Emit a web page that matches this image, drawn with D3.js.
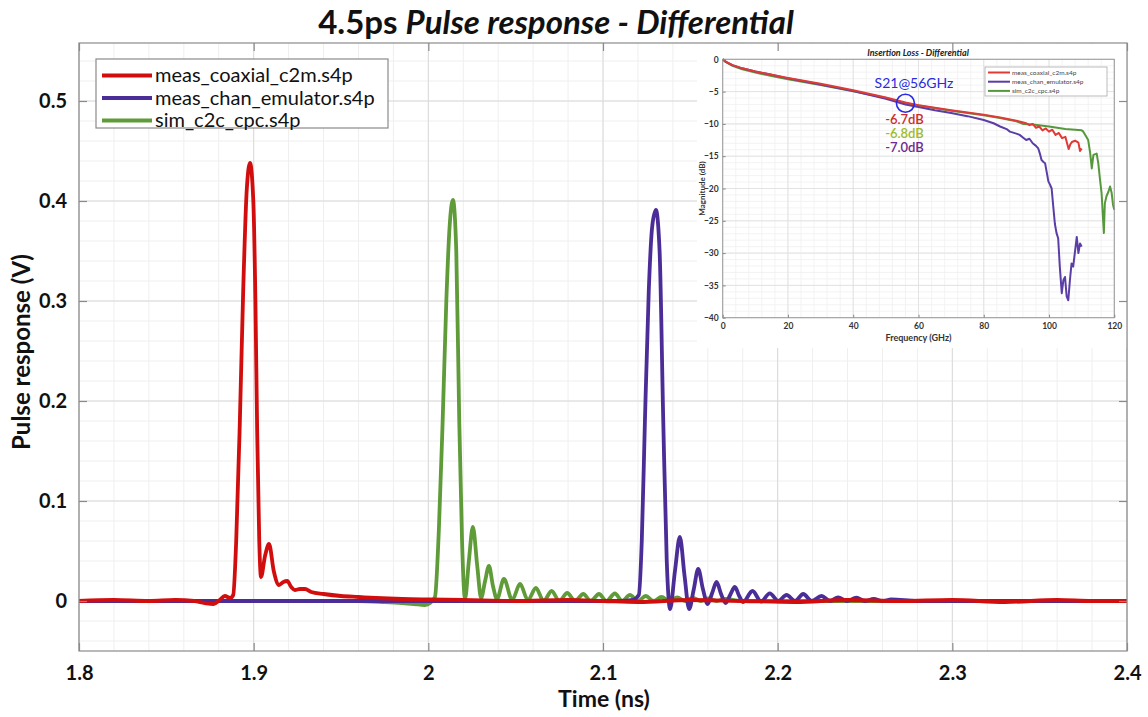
<!DOCTYPE html>
<html>
<head>
<meta charset="utf-8">
<script src="https://cdn.jsdelivr.net/npm/d3@7"></script>
<style>
  body { margin: 0; background: #fff; }
  svg { display: block; }
  text { font-family: Lato, "Open Sans", "DejaVu Sans", sans-serif; }
</style>
</head>
<body>
<svg id="chart" width="1148" height="717"></svg>
<script>
// ---- Pulse response data: [time (ns), pulse response (V)] ----
const seriesNames = ["meas_coaxial_c2m.s4p", "meas_chan_emulator.s4p", "sim_c2c_cpc.s4p"];
const seriesColors = ["#d10d0d", "#4b2d97", "#5f9b39"];

const coaxPulse = [
  [1.800, 0.000], [1.820, 0.001], [1.840, 0.000], [1.855, 0.001], [1.866, 0.000],
  [1.872, -0.002], [1.877, -0.003], [1.8805, 0.001], [1.8835, 0.005], [1.8865, 0.003],
  [1.8883, 0.006], [1.8900, 0.06], [1.8921, 0.18], [1.8940, 0.31], [1.8960, 0.41],
  [1.8979, 0.438], [1.8998, 0.40], [1.9010, 0.30], [1.9020, 0.17], [1.9032, 0.06],
  [1.9042, 0.024], [1.9065, 0.045], [1.9088, 0.057], [1.9115, 0.030], [1.9145, 0.016],
  [1.9170, 0.019], [1.9192, 0.020], [1.9215, 0.014], [1.9236, 0.011], [1.9265, 0.012],
  [1.9294, 0.012], [1.9330, 0.009], [1.9400, 0.007], [1.9500, 0.005], [1.9600, 0.004],
  [1.9700, 0.003], [1.9850, 0.002], [2.0000, 0.0015], [2.0200, 0.001], [2.0500, 0.000],
  [2.0800, 0.001], [2.1000, 0.000], [2.1200, -0.001], [2.1500, 0.001], [2.1800, 0.000],
  [2.2100, -0.001], [2.2400, 0.001], [2.2700, 0.000], [2.3000, 0.001], [2.3300, -0.001],
  [2.3600, 0.001], [2.3800, 0.000], [2.4000, 0.000]
];

const emulatorPulse = [
  [1.800, 0.000], [2.000, 0.000], [2.110, 0.000], [2.117, 0.001], [2.1205, 0.006],
  [2.1222, 0.06], [2.1240, 0.18], [2.1262, 0.31], [2.1282, 0.375], [2.1303, 0.391],
  [2.1324, 0.35], [2.1345, 0.18], [2.1365, 0.04], [2.1384, -0.008], [2.1412, 0.030],
  [2.1440, 0.064], [2.1467, 0.025], [2.1493, -0.008], [2.1520, 0.012], [2.1545, 0.032],
  [2.1572, 0.012], [2.1599, -0.003], [2.1625, 0.008], [2.1650, 0.019], [2.1676, 0.007],
  [2.1702, -0.002], [2.1728, 0.006], [2.1755, 0.014], [2.1780, 0.005], [2.1802, -0.001],
  [2.1856, 0.010], [2.1905, -0.0005], [2.1955, 0.0077], [2.2003, 0.000], [2.2051, 0.006],
  [2.2100, 0.000], [2.2146, 0.007], [2.2195, 0.000], [2.2251, 0.005], [2.2300, 0.000],
  [2.2346, 0.0037], [2.2395, 0.000], [2.2451, 0.0033], [2.2500, 0.000], [2.2550, 0.002],
  [2.2600, 0.000], [2.2650, 0.0015], [2.2800, 0.000], [2.4000, 0.000]
];

const simPulse = [
  [1.800, 0.000], [1.900, 0.000], [1.960, 0.000], [1.975, -0.001], [1.985, -0.002],
  [1.992, -0.003], [1.998, -0.004], [2.001, -0.002], [2.0038, 0.004], [2.0060, 0.07],
  [2.0082, 0.18], [2.0103, 0.30], [2.0122, 0.375], [2.0141, 0.401], [2.0160, 0.35],
  [2.0177, 0.18], [2.0193, 0.06], [2.0210, 0.002], [2.0232, 0.040], [2.0255, 0.074],
  [2.0280, 0.035], [2.0302, 0.003], [2.0325, 0.020], [2.0347, 0.035], [2.0370, 0.015],
  [2.0393, 0.002], [2.0433, 0.022], [2.0480, 0.001], [2.0525, 0.017], [2.0570, 0.001],
  [2.0616, 0.013], [2.0660, 0.000], [2.0706, 0.010], [2.0750, 0.000], [2.0795, 0.008],
  [2.0840, 0.000], [2.0887, 0.007], [2.0930, 0.000], [2.0977, 0.007], [2.1020, 0.000],
  [2.1068, 0.0075], [2.1110, 0.000], [2.1154, 0.006], [2.1200, 0.000], [2.1245, 0.005],
  [2.1290, 0.000], [2.1335, 0.004], [2.1380, 0.000], [2.1425, 0.0035], [2.1470, 0.000],
  [2.1515, 0.003], [2.1560, 0.000], [2.1605, 0.0025], [2.1650, 0.000], [2.1700, 0.002],
  [2.1800, 0.000], [2.4000, 0.000]
];

const xTickValues = [1.8, 1.9, 2.0, 2.1, 2.2, 2.3, 2.4];
const xTickLabels = ["1.8", "1.9", "2", "2.1", "2.2", "2.3", "2.4"];
const yTickValues = [0, 0.1, 0.2, 0.3, 0.4, 0.5];
const yTickLabels = ["0", "0.1", "0.2", "0.3", "0.4", "0.5"];

// ---- Insertion loss data: [frequency (GHz), magnitude (dB)] ----
const coaxLoss = [
  [0, 0], [1, -0.4], [3, -0.9], [6, -1.4], [10, -1.9], [15, -2.4], [20, -2.9], [30, -3.8],
  [40, -4.8], [50, -5.9], [56, -6.7], [60, -7.1], [70, -7.9], [80, -8.6], [85, -9.0],
  [90, -9.5], [93, -9.9], [94, -10.2], [95, -10.0], [96, -10.6], [97, -10.4], [98, -11.0],
  [99, -10.7], [100, -11.2], [101, -10.9], [102, -11.7], [103, -11.4], [104, -12.2],
  [105, -12.0], [106, -13.9], [106.5, -13.2], [107, -12.8], [108, -12.6], [109, -12.9],
  [109.5, -14.2], [110, -13.8]
];
const emulatorLoss = [
  [0, 0], [1, -0.4], [3, -0.9], [6, -1.4], [10, -1.9], [15, -2.4], [20, -2.95], [30, -3.9],
  [40, -4.9], [50, -6.1], [56, -7.0], [60, -7.4], [65, -7.9], [70, -8.3], [75, -8.8],
  [80, -9.4], [83, -9.9], [85, -10.4], [87, -10.8], [88, -11.2], [90, -11.5], [91, -11.7],
  [92, -12.1], [93, -12.5], [94, -12.3], [95, -13.0], [96, -13.4], [96.7, -13.8],
  [97.2, -14.6], [97.7, -15.6], [98.3, -15.9], [98.8, -16.1], [99.3, -17.5], [99.8, -18.9],
  [100.3, -19.4], [100.8, -20.0], [101.3, -22.8], [101.8, -25.5], [102.3, -26.9],
  [102.8, -27.7], [103.3, -32.1], [103.9, -36.2], [104.4, -34.2], [104.9, -33.7],
  [105.4, -36.7], [105.9, -37.3], [106.4, -34.2], [106.9, -31.6], [107.4, -32.1],
  [107.9, -30.0], [108.5, -27.5], [109, -30.0], [109.5, -28.5], [110, -29.0]
];
const simLoss = [
  [0, 0], [1, -0.45], [3, -1.0], [6, -1.55], [10, -2.05], [15, -2.6], [20, -3.1], [30, -4.0],
  [40, -4.95], [50, -6.0], [56, -6.8], [60, -7.15], [70, -7.95], [80, -8.65], [85, -9.1],
  [90, -9.6], [92, -10.0], [95, -10.1], [100, -10.4], [105, -10.8], [108, -10.9],
  [110, -11.0], [110.5, -11.2], [111.2, -11.8], [112, -12.5], [112.6, -14.5],
  [113.1, -16.9], [113.6, -14.8], [114.6, -14.6], [115.1, -16.1], [115.6, -18.5],
  [116.1, -20.7], [116.8, -26.9], [117.1, -22.3], [117.6, -21.2], [118.2, -20.5],
  [118.7, -19.7], [119.2, -20.7], [119.6, -22.5], [120, -23.3]
];
const lossColors = ["#e03a36", "#5a3ea6", "#56983c"];
const fTickValues = [0, 20, 40, 60, 80, 100, 120];
const dbTickValues = [0, -5, -10, -15, -20, -25, -30, -35, -40];

// S21 readings at 56 GHz
const markFreq = 56;
const markDb = -6.8;
const markLabels = ["-6.7dB", "-6.8dB", "-7.0dB"];
const markLabelColors = ["#cc2b2b", "#9dbb2a", "#6d2a95"];

const svg = d3.select("#chart");

// ---------- main axes ----------
const plot = { left: 79, right: 1127, top: 43, bottom: 651 };
const x = d3.scaleLinear().domain([1.8, 2.4]).range([plot.left, plot.right]);
const y = d3.scaleLinear().domain([-0.05, 0.558]).range([plot.bottom, plot.top]);

const grid = svg.append("g");
grid.selectAll(".vminor").data(x.ticks(30)).join("line")
  .attr("x1", d => x(d)).attr("x2", d => x(d))
  .attr("y1", plot.top).attr("y2", plot.bottom)
  .attr("stroke", "#efefef").attr("stroke-width", 1);
grid.selectAll(".hminor").data(y.ticks(30)).join("line")
  .attr("x1", plot.left).attr("x2", plot.right)
  .attr("y1", d => y(d)).attr("y2", d => y(d))
  .attr("stroke", "#efefef").attr("stroke-width", 1);
grid.selectAll(".vmajor").data(xTickValues).join("line")
  .attr("x1", d => x(d)).attr("x2", d => x(d))
  .attr("y1", plot.top).attr("y2", plot.bottom)
  .attr("stroke", "#dadada").attr("stroke-width", 1);
grid.selectAll(".hmajor").data(yTickValues).join("line")
  .attr("x1", plot.left).attr("x2", plot.right)
  .attr("y1", d => y(d)).attr("y2", d => y(d))
  .attr("stroke", "#dadada").attr("stroke-width", 1);

svg.append("clipPath").attr("id", "plotClip")
  .append("rect").attr("x", plot.left).attr("y", plot.top)
  .attr("width", plot.right - plot.left).attr("height", plot.bottom - plot.top);

const pulseLine = d3.line().x(d => x(d[0])).y(d => y(d[1])).curve(d3.curveMonotoneX);
const traces = svg.append("g").attr("clip-path", "url(#plotClip)");
// simulated first, then emulator, coaxial on top
[[simPulse, seriesColors[2]], [emulatorPulse, seriesColors[1]], [coaxPulse, seriesColors[0]]]
  .forEach(([data, color]) => {
    traces.append("path").datum(data).attr("d", pulseLine)
      .attr("fill", "none").attr("stroke", color)
      .attr("stroke-width", 3.8).attr("stroke-linejoin", "round");
  });

// ---------- insertion loss inset ----------
const inset = svg.append("g");
inset.append("rect").attr("x", 697).attr("y", plot.top + 1)
  .attr("width", plot.right - 697).attr("height", 347 - plot.top)
  .attr("fill", "#fff");

const ip = { left: 722.7, right: 1114.3, top: 59.3, bottom: 317.7 };
const fx = d3.scaleLinear().domain([0, 120]).range([ip.left, ip.right]);
const fy = d3.scaleLinear().domain([-40, 0]).range([ip.bottom, ip.top]);

inset.selectAll(".fminor").data(d3.range(0, 121, 4)).join("line")
  .attr("x1", d => fx(d)).attr("x2", d => fx(d))
  .attr("y1", ip.top).attr("y2", ip.bottom)
  .attr("stroke", "#f0f0f0").attr("stroke-width", 0.8);
inset.selectAll(".dbminor").data(d3.range(-40, 1, 1)).join("line")
  .attr("x1", ip.left).attr("x2", ip.right)
  .attr("y1", d => fy(d)).attr("y2", d => fy(d))
  .attr("stroke", "#f0f0f0").attr("stroke-width", 0.8);
inset.selectAll(".fmajor").data(fTickValues).join("line")
  .attr("x1", d => fx(d)).attr("x2", d => fx(d))
  .attr("y1", ip.top).attr("y2", ip.bottom)
  .attr("stroke", "#dedede").attr("stroke-width", 0.8);
inset.selectAll(".dbmajor").data(dbTickValues).join("line")
  .attr("x1", ip.left).attr("x2", ip.right)
  .attr("y1", d => fy(d)).attr("y2", d => fy(d))
  .attr("stroke", "#dedede").attr("stroke-width", 0.8);

const lossLine = d3.line().x(d => fx(d[0])).y(d => fy(d[1]));
[[simLoss, lossColors[2]], [emulatorLoss, lossColors[1]], [coaxLoss, lossColors[0]]]
  .forEach(([data, color]) => {
    inset.append("path").datum(data).attr("d", lossLine)
      .attr("fill", "none").attr("stroke", color)
      .attr("stroke-width", 2).attr("stroke-linejoin", "round");
  });

inset.append("rect").attr("x", ip.left).attr("y", ip.top)
  .attr("width", ip.right - ip.left).attr("height", ip.bottom - ip.top)
  .attr("fill", "none").attr("stroke", "#9a9a9a").attr("stroke-width", 1);

const fAxis = inset.append("g").attr("transform", `translate(0,${ip.bottom})`)
  .call(d3.axisBottom(fx).tickValues(fTickValues).tickSize(-3).tickPadding(5));
const dbAxis = inset.append("g").attr("transform", `translate(${ip.left},0)`)
  .call(d3.axisLeft(fy).tickValues(dbTickValues).tickSize(-3).tickPadding(4));
[fAxis, dbAxis].forEach(a => {
  a.select(".domain").remove();
  a.selectAll(".tick line").attr("stroke", "#888");
  a.selectAll(".tick text").attr("font-size", 8.5).attr("font-weight", 700).attr("fill", "#333");
});

inset.append("text").attr("x", 918).attr("y", 55.5).attr("text-anchor", "middle")
  .attr("font-size", 9).attr("font-weight", 700).attr("font-style", "italic").attr("fill", "#222")
  .text("Insertion Loss - Differential");
inset.append("text").attr("x", (ip.left + ip.right) / 2).attr("y", 341).attr("text-anchor", "middle")
  .attr("font-size", 9).attr("font-weight", 700).attr("fill", "#333")
  .text("Frequency (GHz)");
inset.append("text").attr("transform", `translate(705,${(ip.top + ip.bottom) / 2}) rotate(-90)`)
  .attr("text-anchor", "middle").attr("font-size", 8).attr("font-weight", 700).attr("fill", "#333")
  .text("Magnitude (dB)");

// inset legend
const il = inset.append("g");
il.append("rect").attr("x", 985).attr("y", 67).attr("width", 122).attr("height", 29)
  .attr("fill", "#fff").attr("stroke", "#aaa").attr("stroke-width", 0.8);
seriesNames.forEach((name, i) => {
  const ly = 72.5 + i * 9.2;
  il.append("line").attr("x1", 988).attr("x2", 1010).attr("y1", ly).attr("y2", ly)
    .attr("stroke", lossColors[i]).attr("stroke-width", 2);
  il.append("text").attr("x", 1012).attr("y", ly).attr("dy", "0.35em")
    .attr("font-size", 6.5).attr("fill", "#444").text(name);
});

// S21 marker and readings
inset.append("circle").attr("cx", fx(markFreq)).attr("cy", fy(markDb)).attr("r", 9)
  .attr("fill", "none").attr("stroke", "#2a2ae6").attr("stroke-width", 1.6);
inset.append("text").attr("x", 914).attr("y", 87.5).attr("text-anchor", "middle")
  .attr("font-size", 14).attr("fill", "#2a2ae0").text("S21@56GHz");
markLabels.forEach((t, i) => {
  inset.append("text").attr("x", 904.5).attr("y", 123.5 + i * 14).attr("text-anchor", "middle")
    .attr("font-size", 13).attr("font-weight", 600).attr("fill", markLabelColors[i]).text(t);
});

// ---------- main frame, ticks and labels ----------
svg.append("rect").attr("x", plot.left).attr("y", plot.top)
  .attr("width", plot.right - plot.left).attr("height", plot.bottom - plot.top)
  .attr("fill", "none").attr("stroke", "#8a8a8a").attr("stroke-width", 1.2);

const xAxis = svg.append("g").attr("transform", `translate(0,${plot.bottom})`)
  .call(d3.axisBottom(x).tickValues(xTickValues).tickSize(-8).tickPadding(15)
    .tickFormat((d, i) => xTickLabels[i]));
const xAxisTop = svg.append("g").attr("transform", `translate(0,${plot.top})`)
  .call(d3.axisTop(x).tickValues(xTickValues).tickSize(-8).tickFormat(""));
const yAxis = svg.append("g").attr("transform", `translate(${plot.left},0)`)
  .call(d3.axisLeft(y).tickValues(yTickValues).tickSize(-8).tickPadding(12)
    .tickFormat((d, i) => yTickLabels[i]));
const yAxisRight = svg.append("g").attr("transform", `translate(${plot.right},0)`)
  .call(d3.axisRight(y).tickValues(yTickValues).tickSize(-8).tickFormat(""));
[xAxis, xAxisTop, yAxis, yAxisRight].forEach(a => {
  a.select(".domain").remove();
  a.selectAll(".tick line").attr("stroke", "#8a8a8a").attr("stroke-width", 1.2);
  a.selectAll(".tick text").attr("font-size", 20).attr("font-weight", 700).attr("fill", "#111");
});

svg.append("text").attr("x", 604).attr("y", 707)
  .attr("text-anchor", "middle").attr("font-size", 23).attr("font-weight", 700).attr("fill", "#111")
  .text("Time (ns)");
svg.append("text").attr("transform", `translate(30,352) rotate(-90)`)
  .attr("text-anchor", "middle").attr("font-size", 24).attr("font-weight", 700).attr("fill", "#111")
  .text("Pulse response (V)");

const title = svg.append("text").attr("x", 556).attr("y", 34).attr("text-anchor", "middle")
  .attr("font-size", 33).attr("font-weight", 700).attr("fill", "#111");
title.append("tspan").text("4.5ps ");
title.append("tspan").attr("font-style", "italic").text("Pulse response - Differential");

// main legend
const lg = svg.append("g");
lg.append("rect").attr("x", 96).attr("y", 59).attr("width", 292).attr("height", 69)
  .attr("fill", "#fff").attr("stroke", "#8a8a8a").attr("stroke-width", 1.2);
seriesNames.forEach((name, i) => {
  const ly = 75.5 + i * 22.5;
  lg.append("line").attr("x1", 102).attr("x2", 152).attr("y1", ly).attr("y2", ly)
    .attr("stroke", seriesColors[i]).attr("stroke-width", 3.8);
  lg.append("text").attr("x", 155).attr("y", ly).attr("dy", "0.33em")
    .attr("font-size", 20).attr("fill", "#111").text(name);
});
</script>
</body>
</html>
